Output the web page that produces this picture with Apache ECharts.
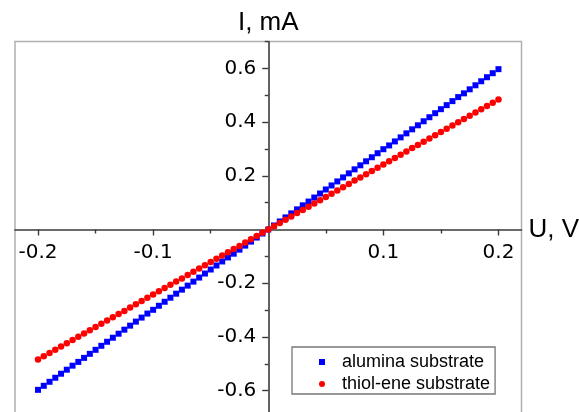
<!DOCTYPE html>
<html>
<head>
<meta charset="utf-8">
<style>
  html, body { margin: 0; padding: 0; background: #ffffff; }
  #chart { width: 579px; height: 412px; }
</style>
<script src="https://cdn.jsdelivr.net/npm/echarts@6/dist/echarts.min.js"></script>
</head>
<body>
<div id="chart"></div>
<script>
// Bias voltage sweep, V
const voltage = [
  -0.200, -0.195, -0.190, -0.185, -0.180, -0.175, -0.170, -0.165, -0.160, -0.155,
  -0.150, -0.145, -0.140, -0.135, -0.130, -0.125, -0.120, -0.115, -0.110, -0.105,
  -0.100, -0.095, -0.090, -0.085, -0.080, -0.075, -0.070, -0.065, -0.060, -0.055,
  -0.050, -0.045, -0.040, -0.035, -0.030, -0.025, -0.020, -0.015, -0.010, -0.005,
   0.000,
   0.005,  0.010,  0.015,  0.020,  0.025,  0.030,  0.035,  0.040,  0.045,  0.050,
   0.055,  0.060,  0.065,  0.070,  0.075,  0.080,  0.085,  0.090,  0.095,  0.100,
   0.105,  0.110,  0.115,  0.120,  0.125,  0.130,  0.135,  0.140,  0.145,  0.150,
   0.155,  0.160,  0.165,  0.170,  0.175,  0.180,  0.185,  0.190,  0.195,  0.200
];

// Current, mA — alumina substrate
const aluminaCurrent = [
  -0.597, -0.582, -0.567, -0.552, -0.537, -0.522, -0.507, -0.493, -0.478, -0.463,
  -0.448, -0.433, -0.418, -0.403, -0.388, -0.373, -0.358, -0.343, -0.328, -0.313,
  -0.299, -0.284, -0.269, -0.254, -0.239, -0.224, -0.209, -0.194, -0.179, -0.164,
  -0.149, -0.134, -0.119, -0.104, -0.090, -0.075, -0.060, -0.045, -0.030, -0.015,
   0.000,
   0.015,  0.030,  0.045,  0.060,  0.075,  0.090,  0.104,  0.119,  0.134,  0.149,
   0.164,  0.179,  0.194,  0.209,  0.224,  0.239,  0.254,  0.269,  0.284,  0.299,
   0.313,  0.328,  0.343,  0.358,  0.373,  0.388,  0.403,  0.418,  0.433,  0.448,
   0.463,  0.478,  0.493,  0.507,  0.522,  0.537,  0.552,  0.567,  0.582,  0.597
];

// Current, mA — thiol-ene substrate
const thiolEneCurrent = [
  -0.484, -0.472, -0.460, -0.448, -0.436, -0.424, -0.411, -0.399, -0.387, -0.375,
  -0.363, -0.351, -0.339, -0.327, -0.315, -0.303, -0.290, -0.278, -0.266, -0.254,
  -0.242, -0.230, -0.218, -0.206, -0.194, -0.182, -0.169, -0.157, -0.145, -0.133,
  -0.121, -0.109, -0.097, -0.085, -0.073, -0.061, -0.048, -0.036, -0.024, -0.012,
   0.000,
   0.012,  0.024,  0.036,  0.048,  0.061,  0.073,  0.085,  0.097,  0.109,  0.121,
   0.133,  0.145,  0.157,  0.169,  0.182,  0.194,  0.206,  0.218,  0.230,  0.242,
   0.254,  0.266,  0.278,  0.290,  0.303,  0.315,  0.327,  0.339,  0.351,  0.363,
   0.375,  0.387,  0.399,  0.411,  0.424,  0.436,  0.448,  0.460,  0.472,  0.484
];

const seriesNames = ['alumina substrate', 'thiol-ene substrate'];

// Tick positions
const xMajorTicks = [-0.2, -0.1, 0.1, 0.2];
const xMinorTicks = [-0.15, -0.05, 0.05, 0.15];
const yMajorTicks = [-0.6, -0.4, -0.2, 0.2, 0.4, 0.6];
const yMinorTicks = [-0.7, -0.5, -0.3, -0.1, 0.1, 0.3, 0.5, 0.7];

const xRange = [-0.22, 0.22];
const yRange = [-0.7, 0.7];

// Plot box
const plot = { left: 15, top: 41.5, width: 506.5, height: 376 };

// The axes cross at the origin: shift each axis inward from its grid edge
const xAxisShift = -plot.height * (0 - yRange[0]) / (yRange[1] - yRange[0]);
const yAxisShift = -plot.width * (0 - xRange[0]) / (xRange[1] - xRange[0]);

const axisColor = '#3a3a3a';
const labelFont = 'DejaVu Sans';
const titleFont = 'Liberation Sans';

// Square legend marker (a path keeps its aspect ratio inside the legend slot)
const squareIcon = 'path://M0,0L1,0L1,1L0,1Z';

const chart = echarts.init(document.getElementById('chart'), null, { renderer: 'canvas' });

function pairs(xs, ys) {
  return xs.map((x, k) => [x, ys[k]]);
}

const tickStyle = { color: axisColor, width: 1.4 };

const majorX = {
  type: 'value',
  min: xRange[0], max: xRange[1],
  position: 'bottom',
  offset: xAxisShift,
  name: 'U, V',
  nameLocation: 'end',
  nameGap: 7,
  nameTextStyle: { fontFamily: titleFont, fontSize: 26, color: '#000' },
  axisLine: { show: true, onZero: false, lineStyle: { color: axisColor, width: 1.6 } },
  axisTick: { show: true, length: 6, customValues: xMajorTicks, lineStyle: tickStyle },
  axisLabel: {
    show: true, customValues: xMajorTicks, margin: 13,
    fontFamily: labelFont, fontSize: 20, color: '#000',
    formatter: v => v.toFixed(1)
  },
  splitLine: { show: false }
};

const minorX = {
  type: 'value',
  min: xRange[0], max: xRange[1],
  position: 'bottom',
  offset: xAxisShift,
  axisLine: { show: false, onZero: false },
  axisTick: { show: true, length: 4, customValues: xMinorTicks, lineStyle: tickStyle },
  axisLabel: { show: false },
  splitLine: { show: false }
};

const majorY = {
  type: 'value',
  min: yRange[0], max: yRange[1],
  position: 'left',
  offset: yAxisShift,
  name: 'I, mA',
  nameLocation: 'end',
  nameGap: 6,
  nameTextStyle: { fontFamily: titleFont, fontSize: 26, color: '#000' },
  axisLine: { show: true, onZero: false, lineStyle: { color: axisColor, width: 1.6 } },
  axisTick: { show: true, length: 6, customValues: yMajorTicks, lineStyle: tickStyle },
  axisLabel: {
    show: true, customValues: yMajorTicks, margin: 12,
    fontFamily: labelFont, fontSize: 20, color: '#000',
    formatter: v => v.toFixed(1)
  },
  splitLine: { show: false }
};

const minorY = {
  type: 'value',
  min: yRange[0], max: yRange[1],
  position: 'left',
  offset: yAxisShift,
  axisLine: { show: false, onZero: false },
  axisTick: { show: true, length: 3.5, customValues: yMinorTicks, lineStyle: tickStyle },
  axisLabel: { show: false },
  splitLine: { show: false }
};

chart.setOption({
  animation: false,
  backgroundColor: '#ffffff',
  grid: {
    left: plot.left, top: plot.top, width: plot.width, height: plot.height,
    show: true, borderColor: '#b0b0b0', borderWidth: 1.5,
    backgroundColor: 'transparent',
    containLabel: false,
    outerBoundsMode: 'none'
  },
  xAxis: [majorX, minorX],
  yAxis: [majorY, minorY],
  legend: {
    orient: 'vertical',
    left: 292, top: 347,
    padding: [6, 5, 1, 27],
    itemWidth: 30,
    itemHeight: 6,
    itemGap: 4,
    symbolKeepAspect: true,
    borderColor: '#777777',
    borderWidth: 1.3,
    borderRadius: 0,
    backgroundColor: '#ffffff',
    textStyle: { fontFamily: titleFont, fontSize: 18, lineHeight: 18, color: '#000' },
    data: [
      { name: seriesNames[0], icon: squareIcon },
      { name: seriesNames[1], icon: 'circle' }
    ]
  },
  series: [
    {
      name: seriesNames[0],
      type: 'scatter',
      xAxisIndex: 0, yAxisIndex: 0,
      symbol: 'rect',
      symbolSize: 6,
      itemStyle: { color: '#0000ff', opacity: 1 },
      data: pairs(voltage, aluminaCurrent)
    },
    {
      name: seriesNames[1],
      type: 'scatter',
      xAxisIndex: 0, yAxisIndex: 0,
      symbol: 'circle',
      symbolSize: 6.5,
      itemStyle: { color: '#ff0000', opacity: 1 },
      data: pairs(voltage, thiolEneCurrent)
    }
  ]
});
</script>
</body>
</html>
